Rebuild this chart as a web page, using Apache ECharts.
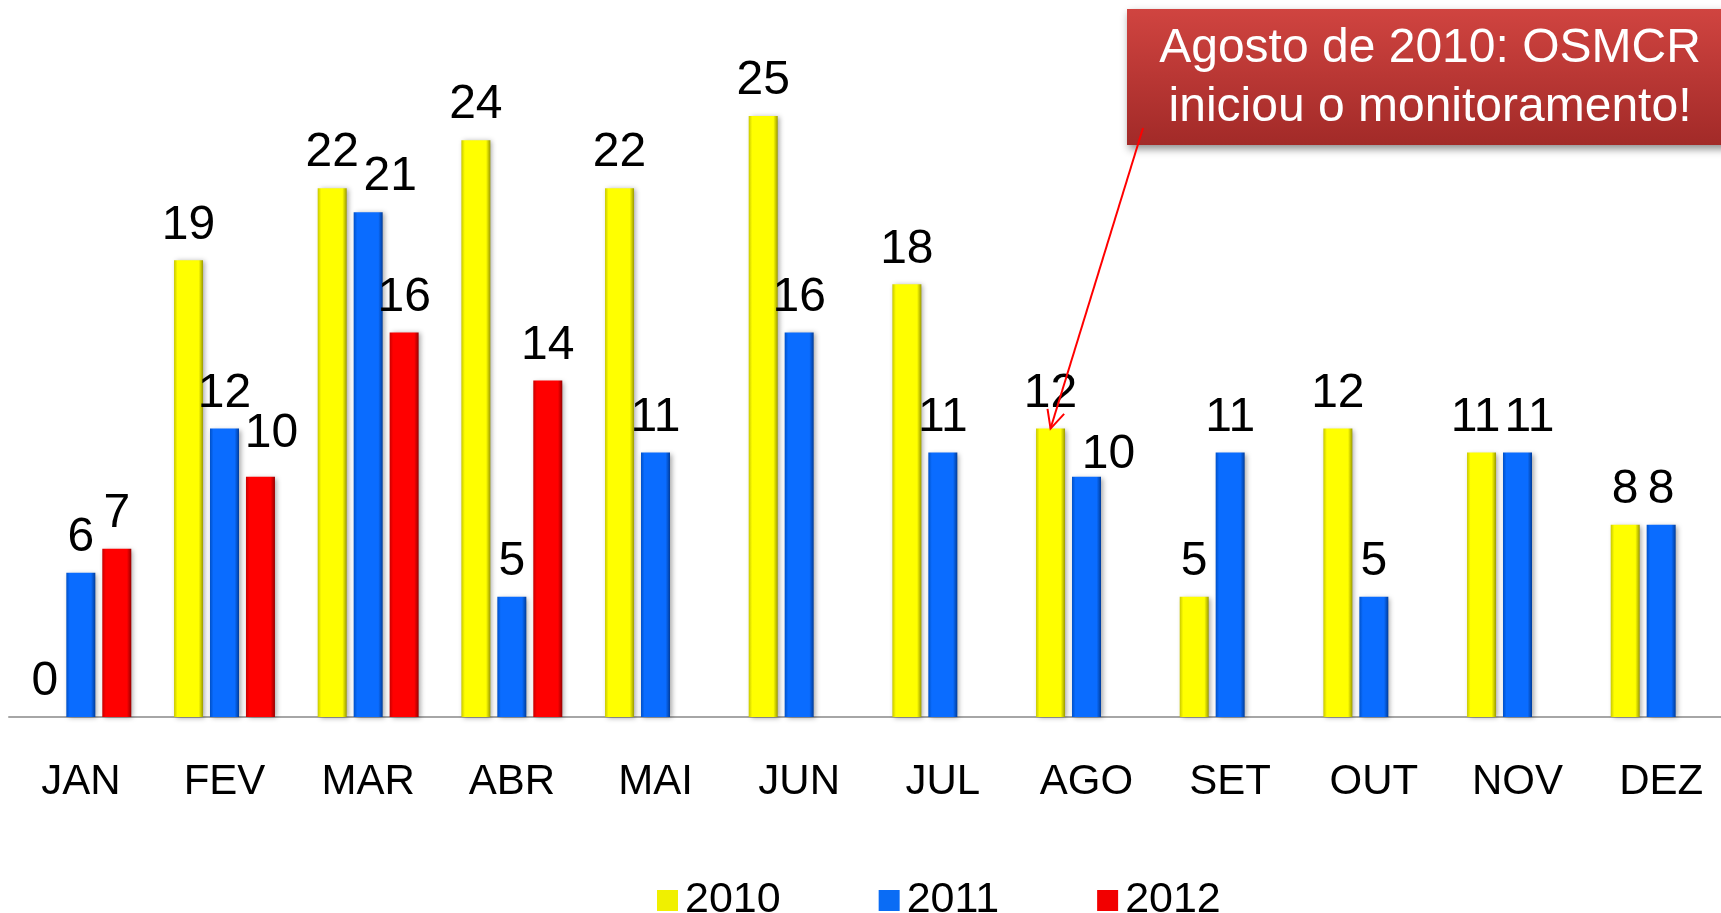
<!DOCTYPE html>
<html>
<head>
<meta charset="utf-8">
<script src="https://cdn.jsdelivr.net/npm/echarts@6/dist/echarts.min.js"></script>
<style>
	html, body { margin: 0; padding: 0; background: #ffffff; }
	#chart { width: 1721px; height: 913px; }
</style>
</head>
<body>
<div id="chart"></div>
<script>
	var months = ['JAN', 'FEV', 'MAR', 'ABR', 'MAI', 'JUN', 'JUL', 'AGO', 'SET', 'OUT', 'NOV', 'DEZ'];
	var years = ['2010', '2011', '2012'];
	var v2010 = [0, 19, 22, 24, 22, 25, 18, 12, 5, 12, 11, 8];
	var v2011 = [6, 12, 21, 5, 11, 16, 11, 10, 11, 5, 11, 8];
	var v2012 = [7, 10, 16, 14, null, null, null, null, null, null, null, null];
	var noteLines = ['Agosto de 2010: OSMCR', 'iniciou o monitoramento!'];
	var noteMonth = 7; // AGO

	// labels nudged by hand in the original, [series, month, dx, dy]
	var labelNudges = [[1, 2, 22, 0], [1, 7, 22, 13], [2, 1, 11, -8], [1, 10, 12, 0], [0, 10, -6, 0]];

	var font = 'Arial, "Liberation Sans", sans-serif';

	// bevelled look: darker edges, bright middle
	function bevel(edgeL, mid, edgeR) {
		return new echarts.graphic.LinearGradient(0, 0, 1, 0, [
			{ offset: 0, color: edgeL },
			{ offset: 0.12, color: mid },
			{ offset: 0.85, color: mid },
			{ offset: 1, color: edgeR }
		]);
	}

	function barSeries(idx, data, edgeL, mid, edgeR) {
		var items = data.map(function (v, i) {
			var item = { value: v };
			labelNudges.forEach(function (n) {
				if (n[0] === idx && n[1] === i) {
					item.label = { offset: [n[2], n[3]] };
				}
			});
			return item;
		});
		return {
			name: years[idx],
			type: 'bar',
			data: items,
			barWidth: 29,
			barGap: '24%',
			itemStyle: {
				color: bevel(edgeL, mid, edgeR),
				shadowColor: 'rgba(0,0,0,0.35)',
				shadowBlur: 5,
				shadowOffsetX: 2,
				shadowOffsetY: 1
			},
			label: {
				show: true,
				position: 'top',
				distance: 11,
				fontFamily: font,
				fontSize: 48,
				color: '#000000'
			}
		};
	}

	var myChart = echarts.init(document.getElementById('chart'));
	var option = {
		animation: false,
		backgroundColor: '#ffffff',
		grid: {
			left: 9,
			top: 44,
			width: 1724,
			bottom: 196,
			outerBoundsMode: 'none'
		},
		legend: {
			data: [
				{ name: '2010', itemStyle: { color: '#f0f000' } },
				{ name: '2011', itemStyle: { color: '#0a6cf5' } },
				{ name: '2012', itemStyle: { color: '#f20000' } }
			],
			left: 652,
			top: 874,
			icon: 'rect',
			itemWidth: 21,
			itemHeight: 21,
			itemGap: 98,
			textStyle: { fontFamily: font, fontSize: 43, color: '#000000', padding: [0, 0, 0, 2] }
		},
		xAxis: {
			type: 'category',
			data: months,
			axisLine: { lineStyle: { color: '#a6a6a6', width: 2 } },
			axisTick: { show: false },
			axisLabel: {
				margin: 44,
				fontFamily: font,
				fontSize: 42,
				color: '#000000'
			}
		},
		yAxis: {
			type: 'value',
			min: 0,
			max: 28,
			show: false,
			splitLine: { show: false }
		},
		series: [
			barSeries(0, v2010, '#c8c800', '#ffff00', '#9a9a00'),
			barSeries(1, v2011, '#0050c8', '#0a6cff', '#003c9a'),
			barSeries(2, v2012, '#c80000', '#ff0000', '#960000')
		]
	};
	myChart.setOption(option);

	// annotation box + arrow to the AGO 2010 bar
	var layout = myChart.getModel().getSeriesByIndex(0).getData().getItemLayout(noteMonth);
	var tipX = layout.x + layout.width / 2;
	var tipY = layout.y + layout.height;
	var startX = 1143, startY = 128;
	var ang = Math.atan2(tipY - startY, tipX - startX);
	var headLen = 20, headAng = 0.45;
	myChart.setOption({
		graphic: [
			{
				type: 'rect',
				shape: { x: 1127, y: 9, width: 620, height: 136 },
				style: {
					fill: new echarts.graphic.LinearGradient(0, 0, 0, 1, [
						{ offset: 0, color: '#d04440' },
						{ offset: 1, color: '#a22a28' }
					]),
					shadowColor: 'rgba(0,0,0,0.45)',
					shadowBlur: 8,
					shadowOffsetX: 2,
					shadowOffsetY: 4
				},
				z: 10
			},
			{
				type: 'text',
				x: 1430,
				y: 49,
				style: {
					text: noteLines[0],
					fontFamily: font,
					fontSize: 48,
					fill: '#ffffff',
					align: 'center',
					verticalAlign: 'middle'
				},
				z: 11
			},
			{
				type: 'text',
				x: 1430,
				y: 108,
				style: {
					text: noteLines[1],
					fontFamily: font,
					fontSize: 48,
					fill: '#ffffff',
					align: 'center',
					verticalAlign: 'middle'
				},
				z: 11
			},
			{
				type: 'polyline',
				shape: {
					points: [[startX, startY], [tipX, tipY]]
				},
				style: { stroke: '#ff0000', lineWidth: 2, fill: null },
				z: 12
			},
			{
				type: 'polyline',
				shape: {
					points: [
						[tipX - headLen * Math.cos(ang - headAng), tipY - headLen * Math.sin(ang - headAng)],
						[tipX, tipY],
						[tipX - headLen * Math.cos(ang + headAng), tipY - headLen * Math.sin(ang + headAng)]
					]
				},
				style: { stroke: '#ff0000', lineWidth: 2, fill: null },
				z: 12
			}
		]
	});
</script>
</body>
</html>
